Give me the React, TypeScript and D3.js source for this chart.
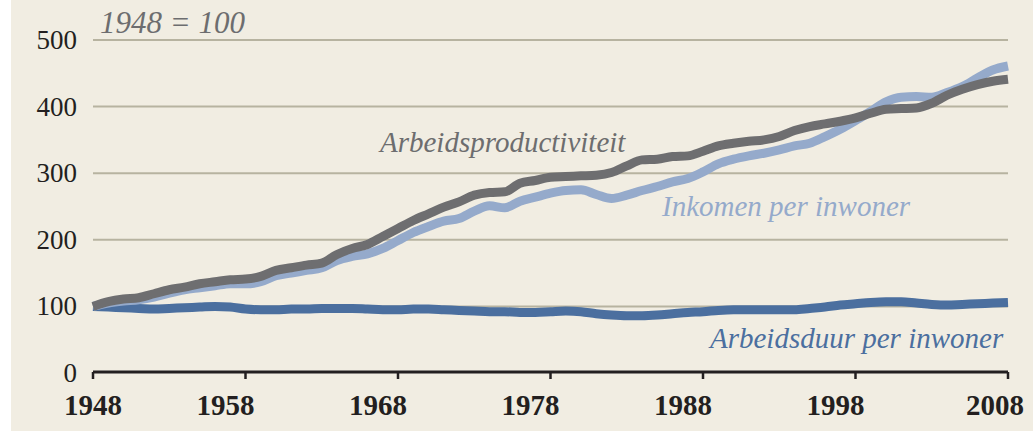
import React from "react";
import * as d3 from "d3";

const years: number[] = d3.range(1948, 2009);

const productivity: number[] = [
  100, 107, 111, 113, 119, 125, 129, 134, 137, 140,
  141, 145, 154, 158, 162, 165, 178, 187, 193, 205,
  217, 229, 239, 249, 257, 267, 271, 272, 285, 289,
  294, 295, 296, 297, 301, 311, 320, 321, 325, 326,
  333, 341, 345, 348, 350, 355, 364, 370, 374, 378,
  383, 390, 396, 397, 398, 405, 417, 426, 433, 438,
  441,
];

const income: number[] = [
  100, 105, 108, 110, 114, 120, 125, 128, 131, 134,
  134, 137, 146, 150, 154, 158, 169, 175, 179, 187,
  199, 211, 220, 228, 232, 243, 251, 248, 258, 264,
  270, 274, 275, 268, 262, 267, 274, 280, 287, 292,
  302, 314, 321, 326, 330, 335, 341, 345, 355, 366,
  379, 393, 407, 414, 415, 414, 421, 430, 443, 455,
  461,
];

const hours: number[] = [
  100, 99, 98, 97, 96, 97, 98, 99, 100, 99,
  96, 95, 95, 96, 96, 97, 97, 97, 96, 95,
  95, 96, 96, 95, 94, 93, 92, 92, 91, 91,
  92, 93, 92, 89, 87, 86, 86, 87, 89, 91,
  92, 94, 95, 95, 95, 95, 95, 97, 99, 102,
  104, 106, 107, 107, 105, 103, 102, 103, 104, 105,
  106,
];

const yTicks: number[] = [0, 100, 200, 300, 400, 500];
const xTicks: number[] = [1948, 1958, 1968, 1978, 1988, 1998, 2008];

const FONT = "'Liberation Serif', 'Times New Roman', serif";

export default function App() {
  const W = 1033;
  const H = 431;
  const x = d3.scaleLinear().domain([1948, 2008]).range([93, 1008]);
  const y = d3.scaleLinear().domain([0, 500]).range([373, 40]);

  const line = (vals: number[]) =>
    d3
      .line<number>()
      .x((_, i) => x(years[i]))
      .y((v) => y(v))
      .curve(d3.curveMonotoneX)(vals) as string;

  const labelX = (t: number, i: number) => {
    if (i === 0) return x(t);
    if (i === xTicks.length - 1) return x(t) - 13;
    return x(t) - 20;
  };

  return (
    <svg
      width={W}
      height={H}
      style={{ position: "absolute", left: 0, top: 0, display: "block" }}
      fontFamily={FONT}
    >
      <rect x={0} y={0} width={W} height={H} fill="#ffffff" />
      <rect x={11} y={0} width={W - 11} height={H} fill="#f1ede2" />

      {yTicks.slice(1).map((t) => (
        <line
          key={"g" + t}
          x1={x(1948)}
          x2={x(2008)}
          y1={y(t)}
          y2={y(t)}
          stroke="#b7b3a0"
          strokeWidth={2}
        />
      ))}

      {yTicks.map((t) => (
        <text
          key={"yl" + t}
          x={77}
          y={y(t)}
          dy="0.33em"
          textAnchor="end"
          fontSize={27}
          fill="#231f20"
        >
          {t}
        </text>
      ))}

      <text
        x={100}
        y={33}
        fontSize={31}
        fontStyle="italic"
        fill="#6d6d6f"
      >
        1948 = 100
      </text>

      <path
        d={line(hours)}
        fill="none"
        stroke="#4b6f9f"
        strokeWidth={9}
        strokeLinejoin="round"
      />
      <path
        d={line(income)}
        fill="none"
        stroke="#95aacb"
        strokeWidth={9}
        strokeLinejoin="round"
      />
      <path
        d={line(productivity)}
        fill="none"
        stroke="#6e6e70"
        strokeWidth={9}
        strokeLinejoin="round"
      />

      <line
        x1={x(1948)}
        x2={x(2008)}
        y1={372}
        y2={372}
        stroke="#231f20"
        strokeWidth={3}
      />
      {xTicks.map((t, i) => (
        <g key={"xt" + t}>
          <line
            x1={x(t)}
            x2={x(t)}
            y1={372}
            y2={379}
            stroke="#231f20"
            strokeWidth={2.5}
          />
          <text
            x={labelX(t, i)}
            y={415}
            textAnchor="middle"
            fontSize={29}
            fontWeight="bold"
            fill="#231f20"
          >
            {t}
          </text>
        </g>
      ))}

      <text x={380} y={152} fontSize={29} fontStyle="italic" fill="#6d6d6f">
        Arbeidsproductiviteit
      </text>
      <text x={662} y={216} fontSize={29} fontStyle="italic" fill="#95aacb">
        Inkomen per inwoner
      </text>
      <text x={710} y={348} fontSize={29} fontStyle="italic" fill="#4b6f9f">
        Arbeidsduur per inwoner
      </text>
    </svg>
  );
}
